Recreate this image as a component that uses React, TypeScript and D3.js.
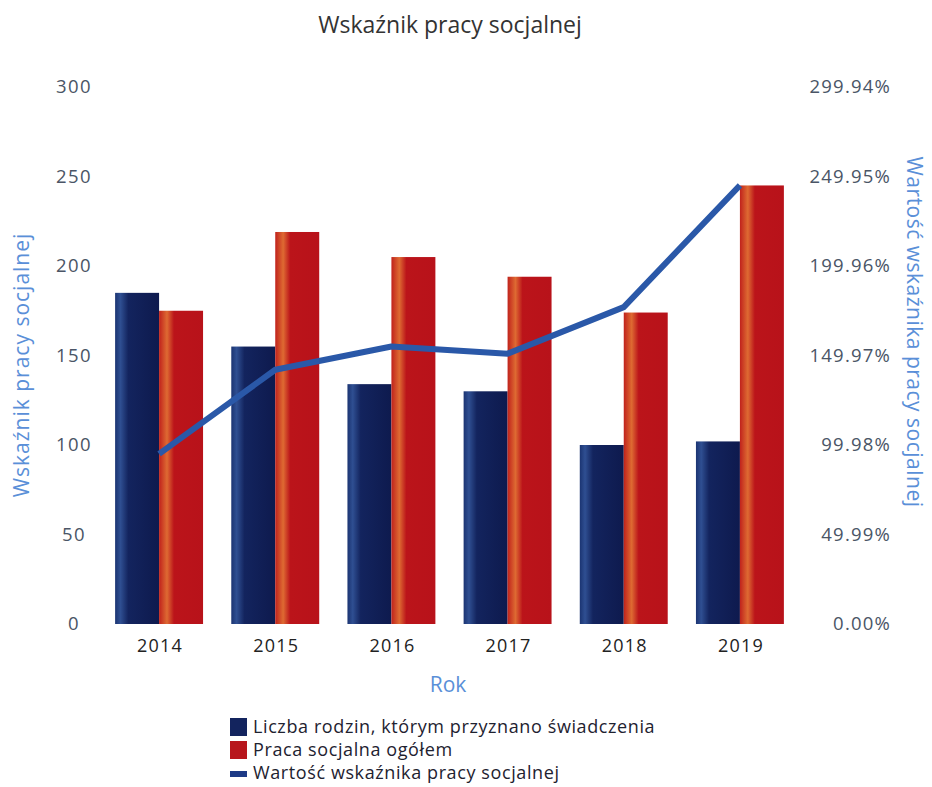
import React, { useEffect, useRef } from 'react';
import * as d3 from 'd3';

const years = ['2014', '2015', '2016', '2017', '2018', '2019'];
const families = [185, 155, 134, 130, 100, 102];
const socialWork = [175, 219, 205, 194, 174, 245];
const indicator = [95, 142, 155, 151, 177, 245];
const leftTicks = [0, 50, 100, 150, 200, 250, 300];
const rightTicks = [0, 49.99, 99.98, 149.97, 199.96, 249.95, 299.94];

const legendItems = [
  { name: 'Liczba rodzin, którym przyznano świadczenia', kind: 'navy' },
  { name: 'Praca socjalna ogółem', kind: 'red' },
  { name: 'Wartość wskaźnika pracy socjalnej', kind: 'line' },
];

const W = 932;
const H = 787;
const FONT = '"Open Sans", "DejaVu Sans", sans-serif';

export default function App() {
  const ref = useRef<SVGSVGElement>(null);

  useEffect(() => {
    document.body.style.margin = '0';
    const svg = d3.select(ref.current);
    svg.selectAll('*').remove();

    const defs = svg.append('defs');
    const navyGrad = defs.append('linearGradient').attr('id', 'navyGrad');
    navyGrad.append('stop').attr('offset', '0%').attr('stop-color', '#1b3472');
    navyGrad.append('stop').attr('offset', '12%').attr('stop-color', '#2f4f92');
    navyGrad.append('stop').attr('offset', '30%').attr('stop-color', '#13245e');
    navyGrad.append('stop').attr('offset', '100%').attr('stop-color', '#0e1a4e');
    const redGrad = defs.append('linearGradient').attr('id', 'redGrad');
    redGrad.append('stop').attr('offset', '0%').attr('stop-color', '#c0221c');
    redGrad.append('stop').attr('offset', '18%').attr('stop-color', '#de6a32');
    redGrad.append('stop').attr('offset', '34%').attr('stop-color', '#bb141a');
    redGrad.append('stop').attr('offset', '100%').attr('stop-color', '#b8121a');

    const x = d3
      .scaleBand<string>()
      .domain(years)
      .range([101, 798])
      .paddingInner(0.243)
      .paddingOuter(0.1215);
    const y = d3.scaleLinear().domain([0, 300]).range([624, 87]);
    const yR = d3.scaleLinear().domain([0, 299.94]).range([624, 87]);
    const half = x.bandwidth() / 2;

    // title
    svg
      .append('text')
      .attr('x', 450)
      .attr('y', 33)
      .attr('text-anchor', 'middle')
      .style('font-family', FONT)
      .style('font-size', '23px')
      .style('fill', '#333')
      .text('Wskaźnik pracy socjalnej');

    // left ticks
    svg
      .selectAll('text.lt')
      .data(leftTicks)
      .enter()
      .append('text')
      .attr('class', 'lt')
      .attr('x', 74)
      .attr('y', (d) => y(d))
      .attr('dy', '0.35em')
      .attr('text-anchor', 'middle')
      .style('font-family', FONT)
      .style('font-size', '18.5px')
      .style('letter-spacing', '1.5px')
      .style('fill', '#4a5566')
      .text((d) => String(d));

    // right ticks
    svg
      .selectAll('text.rt')
      .data(rightTicks)
      .enter()
      .append('text')
      .attr('class', 'rt')
      .attr('x', 891)
      .attr('y', (d) => yR(d))
      .attr('dy', '0.35em')
      .attr('text-anchor', 'end')
      .style('font-family', FONT)
      .style('font-size', '18.5px')
      .style('letter-spacing', '1.2px')
      .style('fill', '#4a5566')
      .text((d) => d.toFixed(2) + '%');

    // axis titles
    svg
      .append('text')
      .attr('transform', 'translate(29,365) rotate(-90)')
      .attr('text-anchor', 'middle')
      .style('font-family', FONT)
      .style('font-size', '21px')
      .style('letter-spacing', '1px')
      .style('fill', '#5a8fd8')
      .text('Wskaźnik pracy socjalnej');
    svg
      .append('text')
      .attr('transform', 'translate(907,332) rotate(90)')
      .attr('text-anchor', 'middle')
      .style('font-family', FONT)
      .style('font-size', '21px')
      .style('letter-spacing', '0.5px')
      .style('fill', '#5a8fd8')
      .text('Wartość wskaźnika pracy socjalnej');
    svg
      .append('text')
      .attr('x', 448)
      .attr('y', 692)
      .attr('text-anchor', 'middle')
      .style('font-family', FONT)
      .style('font-size', '21px')
      .style('fill', '#5a8fd8')
      .text('Rok');

    // bars
    const g = svg.append('g');
    g.selectAll('rect.navy')
      .data(families)
      .enter()
      .append('rect')
      .attr('class', 'navy')
      .attr('x', (_, i) => x(years[i])!)
      .attr('y', (d) => y(d))
      .attr('width', half)
      .attr('height', (d) => y(0) - y(d))
      .attr('fill', 'url(#navyGrad)');
    g.selectAll('rect.red')
      .data(socialWork)
      .enter()
      .append('rect')
      .attr('class', 'red')
      .attr('x', (_, i) => x(years[i])! + half)
      .attr('y', (d) => y(d))
      .attr('width', half)
      .attr('height', (d) => y(0) - y(d))
      .attr('fill', 'url(#redGrad)');

    // line
    const line = d3
      .line<number>()
      .x((_, i) => x(years[i])! + half)
      .y((d) => yR(d));
    svg
      .append('path')
      .attr('d', line(indicator))
      .attr('fill', 'none')
      .attr('stroke', '#2a58a8')
      .attr('stroke-width', 6)
      .attr('stroke-linejoin', 'round');

    // x labels
    svg
      .selectAll('text.xl')
      .data(years)
      .enter()
      .append('text')
      .attr('class', 'xl')
      .attr('x', (d) => x(d)! + half + 1)
      .attr('y', 652)
      .attr('text-anchor', 'middle')
      .style('font-family', FONT)
      .style('font-size', '18px')
      .style('letter-spacing', '1.2px')
      .style('fill', '#222')
      .text((d) => d);

    // legend
    const lg = svg
      .selectAll('g.lg')
      .data(legendItems)
      .enter()
      .append('g')
      .attr('class', 'lg')
      .attr('transform', (_, i) => `translate(230,${727 + i * 23})`);
    lg.append('rect')
      .attr('x', 0)
      .attr('y', (d) => (d.kind === 'line' ? -2 : -9))
      .attr('width', 17)
      .attr('height', (d) => (d.kind === 'line' ? 6 : 18))
      .attr('fill', (d) => (d.kind === 'red' ? '#b8161c' : d.kind === 'navy' ? '#13245e' : '#1d3a86'));
    lg.append('text')
      .attr('x', 23)
      .attr('y', 0)
      .attr('dy', '0.35em')
      .style('font-family', FONT)
      .style('font-size', '18px')
      .style('letter-spacing', '0.6px')
      .style('fill', '#1e2230')
      .text((d) => d.name);
  });

  return <svg ref={ref} width={W} height={H} style={{ display: 'block', background: '#fff' }} />;
}
